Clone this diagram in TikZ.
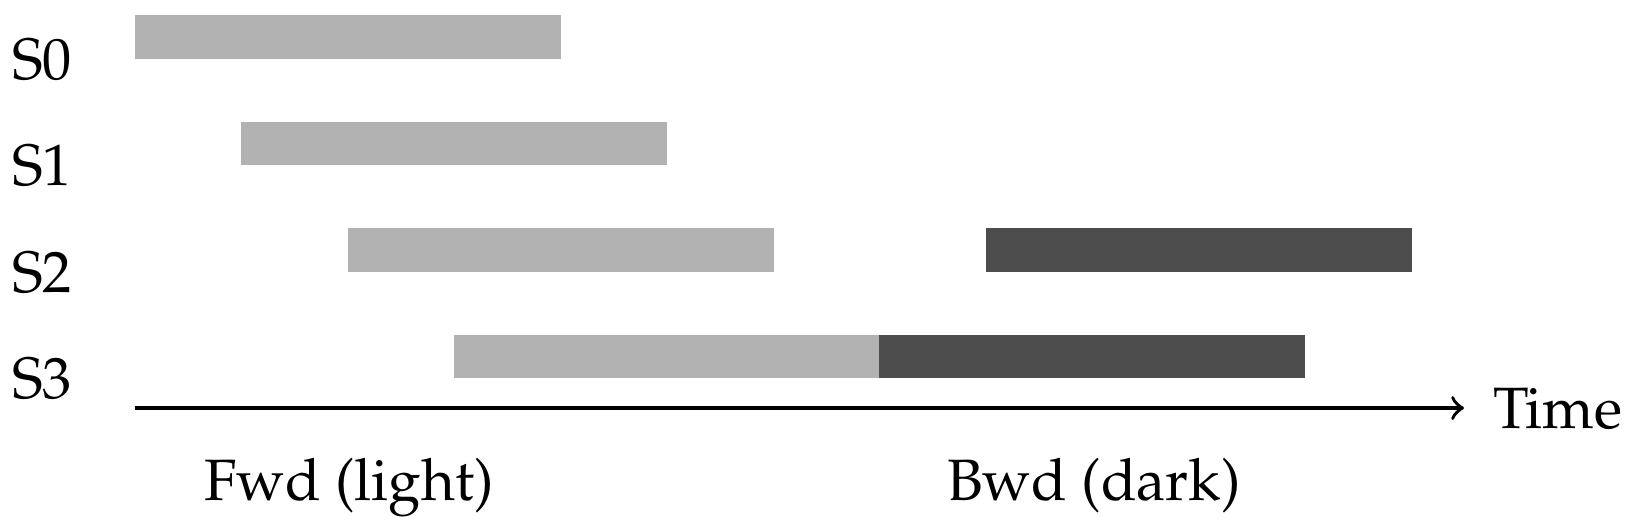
\documentclass[tikz,border=0pt]{standalone}
\usepackage[T1]{fontenc}
\usepackage{mathpazo}
\definecolor{fwdgray}{HTML}{B2B2B2}
\definecolor{bwdgray}{HTML}{4D4D4D}
\begin{document}
\begin{tikzpicture}[x=0.18pt,y=-0.18pt,
  bar/.style={rectangle, draw=none, inner sep=0pt, outer sep=0pt, anchor=north west,
              minimum width=76.68pt, minimum height=7.83pt},
  fwdbar/.style={bar, fill=fwdgray},
  bwdbar/.style={bar, fill=bwdgray},
  stagelabel/.style={inner sep=0pt, anchor=base west, font=\fontsize{10.5}{12.6}\selectfont},
  caption/.style={inner sep=0pt, anchor=base, font=\fontsize{10.5}{12.6}\selectfont},
  axis/.style={->, line width=0.65pt}]
\useasboundingbox (0,0) rectangle (1637,521);
% forward bars
\node[fwdbar] (f0) at (134.5,15) {};
\node[fwdbar] (f1) at (241,121.5) {};
\node[fwdbar] (f2) at (347.5,228) {};
\node[fwdbar] (f3) at (454,334.5) {};
% backward bars
\node[bwdbar] (b2) at (985.5,228) {};
\node[bwdbar] (b3) at (879,334.5) {};
% stage labels
\node[stagelabel] (s0) at (11,79) {S0};
\node[stagelabel] (s1) at (11,185.5) {S1};
\node[stagelabel] (s2) at (11,292) {S2};
\node[stagelabel] (s3) at (11,398.5) {S3};
% time axis
\coordinate (axstart) at (134.5,408);
\coordinate (axend) at (1464,408);
\draw[axis] (axstart) -- (axend);
\node[stagelabel] (time) at (1492,428) {Time};
% captions
\node[caption] (fwd) at (349,500) {Fwd (light)};
\node[caption] (bwd) at (1094,500) {Bwd (dark)};
\end{tikzpicture}
\end{document}
